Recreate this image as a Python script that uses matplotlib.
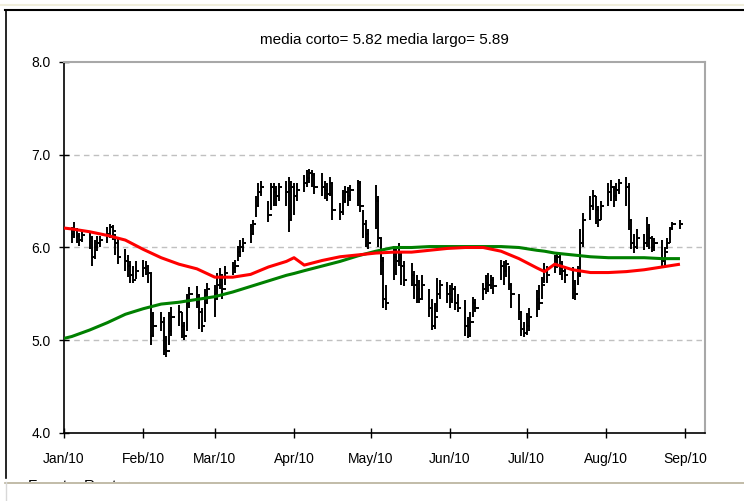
import numpy as np
import pandas as pd
import matplotlib
matplotlib.use("Agg")
import matplotlib.pyplot as plt
import matplotlib.dates as mdates
from matplotlib.patches import Rectangle
from matplotlib.lines import Line2D

plt.rcParams['font.family'] = ['Liberation Sans', 'DejaVu Sans']

# ---------------- data ----------------
title_text = "media corto= 5.82 media largo= 5.89"
source_text = "Fuente: Reuters"

# daily high / low / close, month by month (business days)
high_jan = [6.22, 6.28, 6.20, 6.16, 6.18, 6.16, 6.12, 6.08, 6.12, 6.12,
            6.22, 6.25, 6.24, 6.15, 6.10, 5.98, 5.92, 5.85, 5.80, 5.85]
low_jan = [6.05, 6.10, 6.05, 6.02, 6.06, 5.98, 5.80, 5.88, 5.96, 6.00,
           6.05, 6.10, 6.08, 5.92, 5.82, 5.75, 5.68, 5.62, 5.62, 5.66]
close_jan = [6.15, 6.20, 6.12, 6.08, 6.14, 6.10, 5.90, 6.00, 6.05, 6.08,
             6.15, 6.22, 6.18, 6.05, 5.90, 5.85, 5.80, 5.70, 5.65, 5.75]

high_feb = [5.86, 5.85, 5.80, 5.72, 5.30, 5.30, 5.25, 5.05, 5.30, 5.36,
            5.38, 5.30, 5.20, 5.50, 5.57, 5.58, 5.50, 5.35, 5.55, 5.62]
low_feb = [5.68, 5.70, 5.62, 4.95, 5.05, 5.10, 4.84, 4.82, 4.95, 5.05,
           5.15, 5.02, 5.00, 5.10, 5.35, 5.35, 5.12, 5.09, 5.20, 5.40]
close_feb = [5.78, 5.80, 5.72, 5.05, 5.15, 5.20, 4.90, 4.88, 5.10, 5.25,
             5.30, 5.15, 5.05, 5.40, 5.50, 5.45, 5.30, 5.15, 5.40, 5.55]

high_mar = [5.60, 5.72, 5.78, 5.70, 5.80, 5.84, 5.86, 6.02, 6.08, 6.10,
            6.25, 6.30, 6.55, 6.70, 6.72, 6.50, 6.70, 6.70, 6.66, 6.70,
            6.72, 6.76, 6.72]
low_mar = [5.25, 5.45, 5.55, 5.45, 5.60, 5.70, 5.72, 5.85, 5.90, 5.95,
           6.05, 6.15, 6.33, 6.45, 6.55, 6.27, 6.40, 6.45, 6.45, 6.50,
           6.45, 6.17, 6.30]
close_mar = [5.45, 5.60, 5.70, 5.55, 5.72, 5.78, 5.80, 5.95, 6.00, 6.05,
             6.15, 6.25, 6.45, 6.60, 6.65, 6.35, 6.65, 6.60, 6.55, 6.65,
             6.60, 6.30, 6.65]

high_apr = [6.70, 6.70, 6.78, 6.84, 6.85, 6.84, 6.80, 6.80, 6.72, 6.70,
            6.76, 6.70, 6.48, 6.62, 6.66, 6.65, 6.67, 6.73, 6.72, 6.40,
            6.30, 6.20]
low_apr = [6.35, 6.50, 6.60, 6.65, 6.70, 6.65, 6.58, 6.55, 6.52, 6.50,
           6.55, 6.30, 6.30, 6.35, 6.48, 6.45, 6.50, 6.45, 6.38, 6.10,
           6.00, 5.98]
close_apr = [6.55, 6.62, 6.70, 6.75, 6.80, 6.78, 6.65, 6.65, 6.62, 6.58,
             6.70, 6.40, 6.38, 6.50, 6.60, 6.55, 6.62, 6.70, 6.45, 6.25,
             6.15, 6.05]

high_may = [6.67, 6.55, 6.10, 5.90, 5.60, 6.02, 6.00, 6.05, 5.95, 5.85,
            5.83, 5.75, 5.70, 5.65, 5.70, 5.55, 5.45, 5.40, 5.67, 5.65,
            5.63]
low_may = [6.20, 6.00, 5.70, 5.35, 5.33, 5.65, 5.70, 5.80, 5.60, 5.58,
           5.58, 5.45, 5.40, 5.40, 5.45, 5.25, 5.11, 5.12, 5.30, 5.45,
           5.40]
close_may = [6.50, 6.10, 5.85, 5.45, 5.40, 5.90, 5.85, 5.95, 5.80, 5.65,
             5.70, 5.60, 5.55, 5.45, 5.60, 5.35, 5.15, 5.25, 5.50, 5.60,
             5.50]

high_jun = [5.60, 5.62, 5.58, 5.50, 5.43, 5.25, 5.30, 5.47, 5.45, 5.62,
            5.70, 5.72, 5.70, 5.68, 5.86, 5.85, 5.86, 5.80, 5.62, 5.50,
            5.30, 5.20]
low_jun = [5.35, 5.40, 5.33, 5.30, 5.05, 5.02, 5.05, 5.25, 5.30, 5.43,
           5.50, 5.52, 5.55, 5.50, 5.65, 5.60, 5.68, 5.54, 5.35, 5.22,
           5.05, 5.04]
close_jun = [5.45, 5.55, 5.40, 5.35, 5.15, 5.05, 5.20, 5.40, 5.35, 5.55,
             5.62, 5.60, 5.65, 5.58, 5.80, 5.75, 5.82, 5.60, 5.50, 5.30,
             5.12, 5.08]

high_jul = [5.29, 5.35, 5.54, 5.60, 5.68, 5.83, 5.80, 5.92, 5.95, 5.92,
            5.85, 5.80, 5.79, 5.65, 5.80, 6.20, 6.37, 6.55, 6.62, 6.55,
            6.45, 6.50]
low_jul = [5.06, 5.10, 5.25, 5.33, 5.45, 5.62, 5.62, 5.72, 5.78, 5.70,
           5.65, 5.62, 5.45, 5.43, 5.60, 5.68, 6.00, 6.30, 6.40, 6.25,
           6.22, 6.30]
close_jul = [5.15, 5.25, 5.45, 5.40, 5.60, 5.75, 5.70, 5.85, 5.90, 5.80,
             5.75, 5.70, 5.55, 5.50, 5.70, 6.05, 6.30, 6.45, 6.55, 6.40,
             6.30, 6.45]

high_aug = [6.70, 6.73, 6.66, 6.70, 6.74, 6.76, 6.70, 6.30, 6.15, 6.20,
            6.15, 6.33, 6.25, 6.12, 6.10, 6.08, 6.00, 6.10, 6.22, 6.28,
            6.30]
low_aug = [6.45, 6.50, 6.44, 6.50, 6.58, 6.45, 6.19, 5.98, 5.94, 5.98,
           5.97, 6.00, 5.98, 5.95, 5.96, 5.78, 5.80, 5.98, 6.05, 6.20,
           6.20]
close_aug = [6.60, 6.65, 6.55, 6.62, 6.70, 6.65, 6.30, 6.05, 6.00, 6.10,
             6.05, 6.20, 6.10, 6.00, 6.05, 5.85, 5.95, 6.05, 6.20, 6.25,
             6.25]

# moving averages read at weekly points
ma_dates = ["2010-01-01", "2010-01-04", "2010-01-11", "2010-01-18", "2010-01-25",
            "2010-02-01", "2010-02-08", "2010-02-15", "2010-02-22", "2010-03-01",
            "2010-03-08", "2010-03-15", "2010-03-22", "2010-03-29", "2010-04-01",
            "2010-04-05", "2010-04-12", "2010-04-19", "2010-04-26", "2010-05-03",
            "2010-05-10", "2010-05-17", "2010-05-24", "2010-05-31", "2010-06-07",
            "2010-06-14", "2010-06-21", "2010-06-28", "2010-07-05", "2010-07-08",
            "2010-07-12", "2010-07-19", "2010-07-26", "2010-08-02", "2010-08-09",
            "2010-08-16", "2010-08-23", "2010-08-30"]
ma_short = [6.21, 6.20, 6.17, 6.13, 6.08, 5.98, 5.89, 5.82, 5.77, 5.68,
            5.68, 5.71, 5.79, 5.85, 5.89, 5.81, 5.86, 5.90, 5.92, 5.94,
            5.95, 5.95, 5.97, 5.99, 6.00, 6.00, 5.96, 5.88, 5.78, 5.74,
            5.82, 5.76, 5.73, 5.73, 5.74, 5.76, 5.79, 5.82]
ma_long = [5.02, 5.04, 5.11, 5.19, 5.28, 5.34, 5.39, 5.41, 5.44, 5.47,
           5.52, 5.58, 5.64, 5.70, 5.72, 5.75, 5.80, 5.85, 5.91, 5.96,
           6.00, 6.00, 6.01, 6.01, 6.01, 6.01, 6.01, 6.00, 5.97, 5.96,
           5.94, 5.92, 5.90, 5.89, 5.89, 5.89, 5.88, 5.88]

month_labels = ["Jan/10", "Feb/10", "Mar/10", "Apr/10", "May/10",
                "Jun/10", "Jul/10", "Aug/10", "Sep/10"]
y_ticks = [4.0, 5.0, 6.0, 7.0, 8.0]

# ---------------- build ----------------
highs = high_jan + high_feb + high_mar + high_apr + high_may + high_jun + high_jul + high_aug
lows = low_jan + low_feb + low_mar + low_apr + low_may + low_jun + low_jul + low_aug
closes = close_jan + close_feb + close_mar + close_apr + close_may + close_jun + close_jul + close_aug
dates = pd.bdate_range("2010-01-04", "2010-08-30")
n = min(len(dates), len(highs), len(lows), len(closes))
dnum = mdates.date2num(dates[:n].to_pydatetime())
highs = np.array(highs[:n]); lows = np.array(lows[:n]); closes = np.array(closes[:n])

W, H = 744, 501
fig = plt.figure(figsize=(W / 100, H / 100), dpi=100)
fig.patch.set_facecolor("white")

def fx(px):
    return px / W

def fy(py):
    return 1 - py / H

ax = fig.add_axes([fx(64), fy(433), fx(705) - fx(64), fy(62) - fy(433)])

x0 = mdates.date2num(pd.Timestamp("2010-01-01").to_pydatetime())
ax.set_xlim(x0, x0 + 250.8)
ax.set_ylim(4.0, 8.0)

for v in y_ticks[1:-1]:
    ax.axhline(v, color="#c0c0c0", lw=1.0, ls=(0, (4, 3)), zorder=1)

ax.vlines(dnum, lows, highs, color="black", lw=1.4, zorder=3)
ax.hlines(closes, dnum, dnum + 1.3, color="black", lw=1.4, zorder=3)

mdn = mdates.date2num(pd.to_datetime(ma_dates).to_pydatetime())
ax.plot(mdn, ma_long, color="#008000", lw=2.2, zorder=4, solid_capstyle="butt")
ax.plot(mdn, ma_short, color="#ff0000", lw=2.2, zorder=5, solid_capstyle="butt")

month_pos = mdates.date2num(pd.date_range("2010-01-01", periods=9, freq="MS").to_pydatetime())
ax.set_xticks(month_pos)
ax.set_xticklabels(month_labels)
ax.set_yticks(y_ticks)
ax.set_yticklabels([f"{v:.1f}" for v in y_ticks])
ax.tick_params(axis="both", direction="inout", length=7, width=1, labelsize=10,
               colors="black")
ax.tick_params(axis="x", pad=10)
ax.tick_params(axis="y", pad=6)

for s in ["left", "bottom"]:
    ax.spines[s].set_color("black")
    ax.spines[s].set_linewidth(1.2)
for s in ["top", "right"]:
    ax.spines[s].set_color("#a8a8a8")
    ax.spines[s].set_linewidth(1.5)

fig.text(fx(384.5), fy(40), title_text, ha="center", va="center", fontsize=11)

# outer frame decorations
fig.add_artist(Line2D([0, 1], [fy(5), fy(5)], color="#f0eedc", lw=1.5))
fig.add_artist(Line2D([fx(5), 1], [fy(9.5), fy(9.5)], color="black", lw=1.5))
fig.add_artist(Line2D([fx(5.5), fx(5.5)], [fy(9.5), fy(478)], color="black", lw=1.2))

fig.text(fx(28), fy(479.5), source_text, ha="left", va="top", fontsize=11)
fig.add_artist(Rectangle((0, 0), 1, fy(482), transform=fig.transFigure,
                         facecolor="white", edgecolor="none", zorder=10))
fig.add_artist(Line2D([fx(5), 1], [fy(482.5), fy(482.5)], color="#b8b09a", lw=1.2, zorder=11))
fig.add_artist(Line2D([fx(5.5), fx(5.5)], [fy(482), 0], color="#d8d8d8", lw=1.0, zorder=11))

fig.savefig("out.png", dpi=100, facecolor="white")
